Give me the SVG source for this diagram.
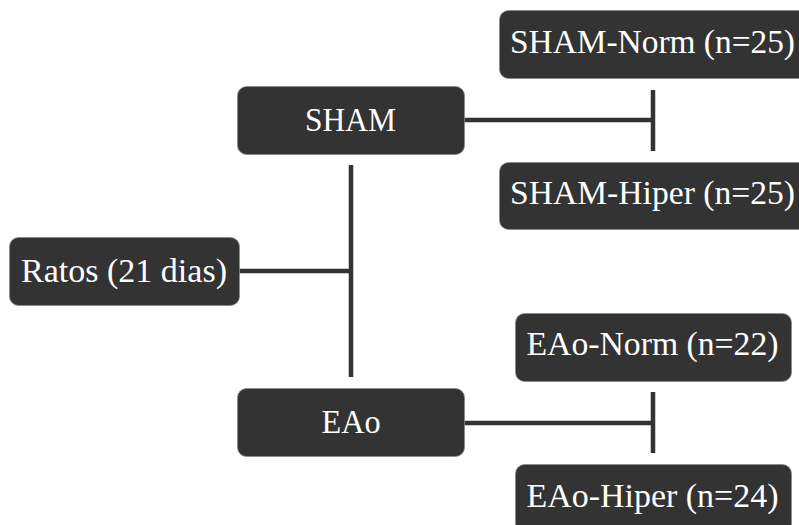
<svg xmlns="http://www.w3.org/2000/svg" width="799" height="525" viewBox="0 0 799 525">
<style>
.box{fill:#333333;stroke:#8a8a8a;stroke-width:0.8}
.lbl{fill:#ffffff;font-family:"Liberation Serif","DejaVu Serif",serif;font-size:33px;text-anchor:middle}
.con{stroke:#333333;stroke-width:4.5;fill:none}
</style>
<rect width="799" height="525" fill="#ffffff"/>
<g id="connectors">
<line class="con" x1="239" y1="271" x2="351" y2="271"/>
<line class="con" x1="351" y1="165" x2="351" y2="377"/>
<line class="con" x1="464" y1="120" x2="653" y2="120"/>
<line class="con" x1="653" y1="90" x2="653" y2="151"/>
<line class="con" x1="464" y1="423" x2="653" y2="423"/>
<line class="con" x1="653" y1="392" x2="653" y2="453"/>
</g>
<g id="ratos">
<rect class="box" x="9.5" y="237.5" width="230" height="68" rx="9"/>
<text class="lbl" x="124" y="282" textLength="206" lengthAdjust="spacingAndGlyphs">Ratos (21 dias)</text>
</g>
<g id="sham">
<rect class="box" x="237.5" y="86.5" width="227" height="68" rx="9"/>
<text class="lbl" x="350.5" y="131" textLength="91" lengthAdjust="spacingAndGlyphs">SHAM</text>
</g>
<g id="eao">
<rect class="box" x="237.5" y="388.5" width="227" height="68" rx="9"/>
<text class="lbl" x="351" y="433" textLength="59" lengthAdjust="spacingAndGlyphs">EAo</text>
</g>
<g id="sham-norm">
<rect class="box" x="499.5" y="10.5" width="308" height="68" rx="9"/>
<text class="lbl" x="652.5" y="53" textLength="285" lengthAdjust="spacingAndGlyphs">SHAM-Norm (n=25)</text>
</g>
<g id="sham-hiper">
<rect class="box" x="499.5" y="162.5" width="308" height="67" rx="9"/>
<text class="lbl" x="652.5" y="204" textLength="285" lengthAdjust="spacingAndGlyphs">SHAM-Hiper (n=25)</text>
</g>
<g id="eao-norm">
<rect class="box" x="515.5" y="313.5" width="276" height="68" rx="9"/>
<text class="lbl" x="652.5" y="355" textLength="252" lengthAdjust="spacingAndGlyphs">EAo-Norm (n=22)</text>
</g>
<g id="eao-hiper">
<rect class="box" x="515.5" y="464.5" width="276" height="68" rx="9"/>
<text class="lbl" x="652.5" y="507" textLength="252" lengthAdjust="spacingAndGlyphs">EAo-Hiper (n=24)</text>
</g>
</svg>
